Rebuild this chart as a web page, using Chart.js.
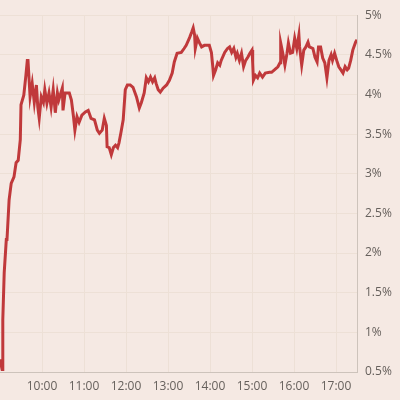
<!DOCTYPE html>
<html>
<head>
<meta charset="utf-8">
<script src="https://cdn.jsdelivr.net/npm/chart.js@4"></script>
<style>
  html, body { margin: 0; padding: 0; background: #f5e9e3; }
  #wrap { width: 400px; height: 400px; }
</style>
</head>
<body>
<div id="wrap"><canvas id="yieldChart" width="400" height="400"></canvas></div>
<script>
// Intraday times (HH:MM) and yield values in %
const times = [
  '9:00','9:03','9:04','9:06','9:09','9:10','9:13','9:16','9:20','9:23','9:26','9:29','9:30','9:34','9:37','9:39','9:40',
  '9:43','9:46','9:49','9:52','9:54','9:56','9:59','10:02','10:04','10:07','10:10','10:13','10:16','10:19','10:22','10:24',
  '10:29','10:30','10:33','10:39','10:42','10:45','10:47','10:50','10:53','10:57','11:02','11:06','11:10','11:15','11:19',
  '11:22','11:26','11:29','11:32','11:33','11:36','11:39','11:42','11:45','11:48','11:50','11:53','11:56','11:59','12:02',
  '12:06','12:10','12:15','12:19','12:22','12:26','12:29','12:32','12:35','12:38','12:41','12:43','12:46','12:49','12:53',
  '12:58','13:02','13:06','13:09','13:13','13:19','13:23','13:26','13:31','13:34','13:36','13:38','13:39','13:42','13:45',
  '13:48','13:52','13:59','14:02','14:04','14:05','14:08','14:11','14:14','14:16','14:21','14:25','14:28','14:31','14:34',
  '14:37','14:39','14:42','14:45','14:48','14:51','14:54','14:57','15:00','15:01','15:02','15:05','15:08','15:11','15:15',
  '15:19','15:25','15:28','15:32','15:37','15:40','15:41','15:44','15:47','15:50','15:52','15:55','15:58','16:01','16:04',
  '16:07','16:08','16:11','16:14','16:17','16:20','16:22','16:27','16:30','16:33','16:35','16:38','16:41','16:44','16:47',
  '16:50','16:53','16:55','16:58','17:01','17:04','17:07','17:10','17:13','17:16','17:18','17:21','17:24','17:28','17:30'
];
const yields = [
  0.66, 0.53, 1.16, 1.75, 2.17, 2.17, 2.67, 2.88, 2.96, 3.14, 3.17, 3.43, 3.87, 3.99, 4.24, 4.43, 4.43,
  3.97, 4.14, 3.90, 4.12, 3.84, 3.70, 3.97, 3.90, 4.06, 3.89, 4.02, 3.84, 4.06, 3.77, 4.02, 3.93,
  4.08, 3.80, 4.02, 4.02, 3.93, 3.72, 3.55, 3.72, 3.65, 3.74, 3.78, 3.80, 3.70, 3.68, 3.55,
  3.51, 3.55, 3.70, 3.61, 3.34, 3.33, 3.24, 3.33, 3.36, 3.33, 3.39, 3.53, 3.68, 4.06, 4.12,
  4.12, 4.09, 3.97, 3.83, 3.90, 4.02, 4.21, 4.16, 4.22, 4.16, 4.21, 4.14, 4.06, 4.03, 4.08,
  4.12, 4.18, 4.27, 4.41, 4.52, 4.53, 4.58, 4.62, 4.72, 4.79, 4.84, 4.75, 4.58, 4.71, 4.65,
  4.60, 4.62, 4.62, 4.53, 4.35, 4.24, 4.31, 4.40, 4.37, 4.43, 4.53, 4.58, 4.60, 4.53, 4.58,
  4.47, 4.52, 4.43, 4.52, 4.35, 4.43, 4.47, 4.52, 4.56, 4.40, 4.18, 4.24, 4.21, 4.27, 4.22,
  4.27, 4.28, 4.28, 4.31, 4.35, 4.40, 4.65, 4.52, 4.37, 4.52, 4.65, 4.52, 4.53, 4.71, 4.58,
  4.75, 4.60, 4.37, 4.56, 4.60, 4.66, 4.60, 4.58, 4.47, 4.41, 4.60, 4.60, 4.46, 4.40, 4.21,
  4.43, 4.50, 4.43, 4.52, 4.43, 4.35, 4.31, 4.27, 4.35, 4.31, 4.33, 4.43, 4.56, 4.66, 4.69
];
const xTickLabels = ['10:00','11:00','12:00','13:00','14:00','15:00','16:00','17:00'];
const yTicks = [0.5, 1, 1.5, 2, 2.5, 3, 3.5, 4, 4.5, 5];

// minutes since 9:00
function toMinutes(t) {
  const parts = t.split(':');
  return (parseInt(parts[0]) - 9) * 60 + parseInt(parts[1]);
}

const points = times.map((t, i) => ({ x: toMinutes(t), y: yields[i] }));
const xTickValues = xTickLabels.map(toMinutes);

const gridColor = '#ede0d6';
const textColor = '#66605c';

new Chart(document.getElementById('yieldChart'), {
  type: 'line',
  data: {
    datasets: [{
      data: points,
      borderColor: '#c0393b',
      borderWidth: 3,
      pointRadius: 0,
      tension: 0,
      fill: false
    }]
  },
  options: {
    responsive: false,
    animation: false,
    layout: { padding: { top: 15, left: 0, right: 0, bottom: 0 } },
    plugins: { legend: { display: false }, tooltip: { enabled: false } },
    scales: {
      x: {
        type: 'linear',
        min: 0,
        max: 510,
        afterBuildTicks: (scale) => {
          scale.ticks = xTickValues.map(v => ({ value: v }));
        },
        afterFit: (scale) => { scale.height = 28; },
        grid: { color: gridColor, drawTicks: false },
        border: { color: '#cdc3bb' },
        ticks: {
          padding: 7,
          maxRotation: 0,
          color: textColor,
          font: { family: 'Open Sans', size: 12 },
          callback: (v) => {
            const i = xTickValues.indexOf(v);
            return i >= 0 ? xTickLabels[i] : '';
          }
        }
      },
      y: {
        position: 'right',
        min: 0.5,
        max: 5,
        afterBuildTicks: (scale) => {
          scale.ticks = yTicks.map(v => ({ value: v }));
        },
        afterFit: (scale) => { scale.width = 43; },
        grid: { color: gridColor, drawTicks: false },
        border: { color: '#cdc3bb' },
        ticks: {
          padding: 8,
          color: textColor,
          font: { family: 'Open Sans', size: 12 },
          callback: (v) => v + '%'
        }
      }
    }
  }
});
</script>
</body>
</html>
